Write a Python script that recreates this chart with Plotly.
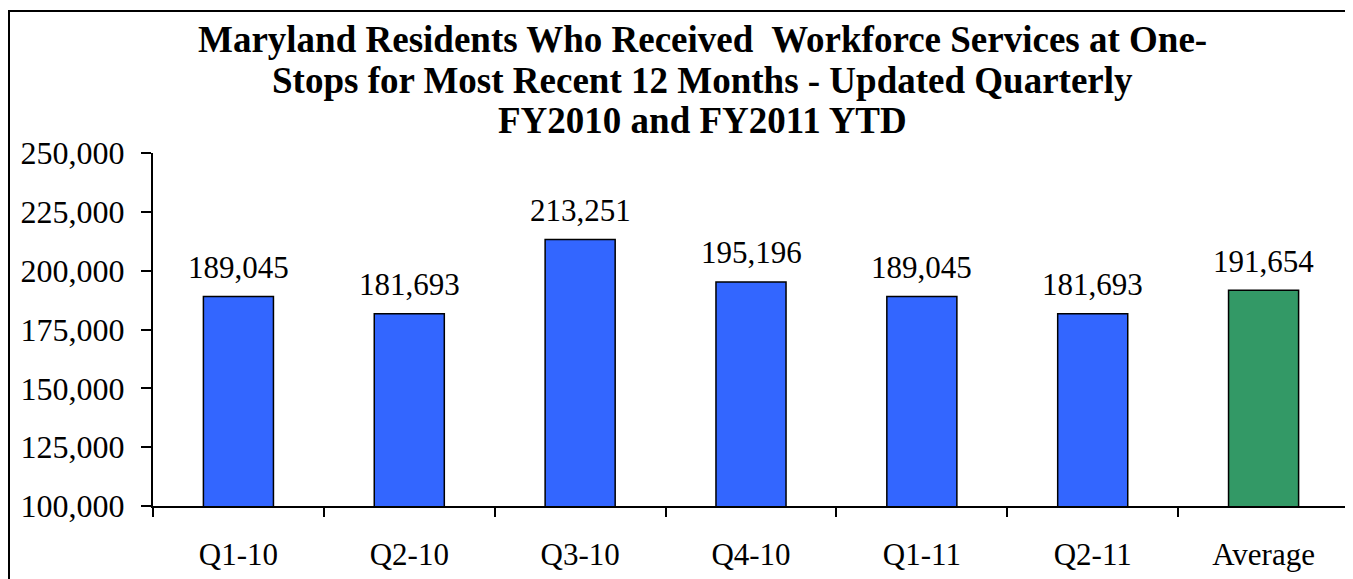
import plotly.graph_objects as go

categories = ["Q1-10", "Q2-10", "Q3-10", "Q4-10", "Q1-11", "Q2-11", "Average"]
values = [189045, 181693, 213251, 195196, 189045, 181693, 191654]
colors = ["#3366FF"] * 6 + ["#339966"]
tick_vals = [100000, 125000, 150000, 175000, 200000, 225000, 250000]
tick_text = ["100,000", "125,000", "150,000", "175,000", "200,000", "225,000", "250,000"]
title_lines = [
    "Maryland Residents Who Received  Workforce Services at One-",
    "Stops for Most Recent 12 Months - Updated Quarterly",
    "FY2010 and FY2011 YTD",
]

FONT = "Liberation Serif, Times New Roman, serif"

# page offset of the figure (body margin)
OFF = 8
W, H = 1353 - OFF, 579 - OFF
L, R, T, B = 145, 4, 145, 73
PW = W - L - R
PH = H - T - B


def px_x(page_x):
    return (page_x - OFF - L) / PW


def px_y(page_y):
    return (H - B - (page_y - OFF)) / PH


fig = go.Figure(
    go.Bar(
        x=categories,
        y=values,
        marker=dict(color=colors, line=dict(color="black", width=1.5)),
        cliponaxis=False,
        width=0.41,
    )
)

title_y = [39, 80, 121]
annotations = [
    dict(
        text=line,
        xref="paper",
        yref="paper",
        x=px_x(702),
        y=px_y(yy),
        xanchor="center",
        yanchor="middle",
        showarrow=False,
        font=dict(family=FONT, size=37, color="black", weight="bold"),
    )
    for line, yy in zip(title_lines, title_y)
]
annotations += [
    dict(
        text=f"{v:,}",
        x=c,
        y=v,
        xref="x",
        yref="y",
        xanchor="center",
        yanchor="middle",
        yshift=29,
        showarrow=False,
        font=dict(family=FONT, size=31, color="black"),
    )
    for c, v in zip(categories, values)
]

fig.update_layout(
    width=W,
    height=H,
    margin=dict(l=L, r=R, t=T, b=B),
    paper_bgcolor="white",
    plot_bgcolor="white",
    showlegend=False,
    annotations=annotations,
    xaxis=dict(
        showline=True,
        linecolor="black",
        linewidth=2,
        ticks="outside",
        tickcolor="black",
        ticklen=9,
        tickwidth=2,
        tickson="boundaries",
        ticklabelstandoff=20,
        tickfont=dict(family=FONT, size=31, color="black"),
        showgrid=False,
    ),
    yaxis=dict(
        range=[100000, 250000],
        tickvals=tick_vals,
        ticktext=tick_text,
        showline=True,
        linecolor="black",
        linewidth=2,
        ticks="outside",
        tickcolor="black",
        ticklen=10,
        tickwidth=2,
        ticklabelstandoff=10,
        tickfont=dict(family=FONT, size=32, color="black"),
        showgrid=False,
        zeroline=False,
    ),
    shapes=[
        dict(
            type="rect",
            xref="paper",
            yref="paper",
            x0=px_x(9),
            x1=px_x(1350),
            y0=px_y(620),
            y1=px_y(11),
            line=dict(color="black", width=2),
            fillcolor="rgba(0,0,0,0)",
            layer="below",
        )
    ],
)

fig.write_html("out.html")
